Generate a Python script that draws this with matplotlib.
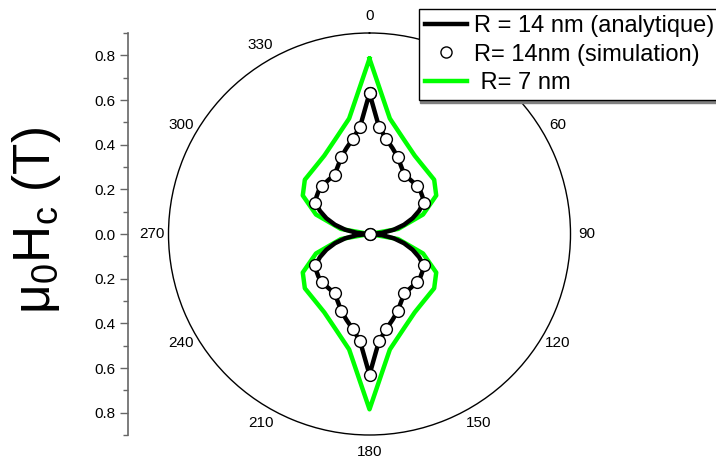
import numpy as np
import matplotlib
matplotlib.use('Agg')
import matplotlib.pyplot as plt
from matplotlib.lines import Line2D
from matplotlib.ticker import MultipleLocator

plt.rcParams['font.family'] = ['Liberation Sans', 'DejaVu Sans']
plt.rcParams['mathtext.fontset'] = 'custom'
plt.rcParams['mathtext.rm'] = 'Liberation Sans'
plt.rcParams['mathtext.it'] = 'Liberation Sans'

# ---- data: one quarter (degrees from top, clockwise); the picture is symmetric ----
ana_deg = [0, 5, 10, 15, 20, 25, 30, 35, 40, 45, 50, 55, 60, 65, 70, 75, 80, 85, 90]
ana_r = [0.63, 0.483, 0.432, 0.398, 0.368, 0.335, 0.31, 0.305, 0.303, 0.302,
         0.298, 0.29, 0.278, 0.245, 0.205, 0.16, 0.11, 0.056, 0.0]

sim_deg = [0, 5, 10, 20, 30, 45, 60, 90]
sim_r = [0.63, 0.483, 0.432, 0.368, 0.305, 0.302, 0.28, 0.0]

r7_deg = [0, 10, 20, 30, 40, 50, 60, 70, 80, 90]
r7_r = [0.785, 0.525, 0.45, 0.405, 0.385, 0.378, 0.345, 0.255, 0.13, 0.0]

theta_labels = ['0', '30', '60', '90', '120', '150', '180', '210', '240', '270', '300', '330']
r_ticks = [-0.8, -0.6, -0.4, -0.2, 0.0, 0.2, 0.4, 0.6, 0.8]
r_ticklabels = ['0.8', '0.6', '0.4', '0.2', '0.0', '0.2', '0.4', '0.6', '0.8']

labels = ['R = 14 nm (analytique)', 'R= 14nm (simulation)', ' R= 7 nm']


def full(deg, r):
    d = np.asarray(deg, float)
    rr = np.asarray(r, float)
    th = np.concatenate([d, 180 - d[::-1][1:], 180 + d[1:], 360 - d[::-1][1:]])
    rad = np.concatenate([rr, rr[::-1][1:], rr[1:], rr[::-1][1:]])
    return np.deg2rad(th), rad


W, H = 716, 461
fig = plt.figure(figsize=(W / 100, H / 100), dpi=100)

cx, cy, R = 369.5, 234.0, 201.0
ax = fig.add_axes([(cx - R) / W, (H - cy - R) / H, 2 * R / W, 2 * R / H], projection='polar')
ax.set_theta_zero_location('N')
ax.set_theta_direction(-1)
ax.set_rlim(0, 0.9)
ax.set_yticks([])
ax.grid(False)
ax.set_xticks(np.deg2rad(np.arange(0, 360, 30)))
ax.set_xticklabels(theta_labels)
ax.set_xticks(np.deg2rad(np.arange(15, 360, 30)), minor=True)
ax.tick_params(axis='x', which='major', direction='in', length=7, width=1, pad=5, labelsize=11)
ax.tick_params(axis='x', which='minor', direction='in', length=5, width=1)
ax.spines['polar'].set_linewidth(1.0)
ax.spines['polar'].set_color('black')

t7, rr7 = full(r7_deg, r7_r)
ta, ra = full(ana_deg, ana_r)
ts, rs = full(sim_deg, sim_r)
ax.plot(t7, rr7, color='#00ff00', lw=3.2, zorder=2)
ax.plot(ta, ra, color='black', lw=3.2, zorder=3)
ax.plot(ts, rs, ls='none', marker='o', ms=8.5, mfc='white', mec='black', mew=1.0, zorder=4)

# radial scale on the left
ax2 = fig.add_axes([128 / W, (H - cy - R) / H, 0.0005, 2 * R / H])
ax2.set_ylim(-0.9, 0.9)
ax2.patch.set_visible(False)
for s in ['right', 'top', 'bottom']:
    ax2.spines[s].set_visible(False)
ax2.spines['left'].set_color('0.4')
ax2.spines['left'].set_linewidth(1.2)
ax2.set_xticks([])
ax2.set_yticks(r_ticks)
ax2.set_yticklabels(r_ticklabels)
ax2.yaxis.set_minor_locator(MultipleLocator(0.1))
ax2.tick_params(axis='y', which='major', direction='out', length=6, width=1, color='0.4', labelsize=11, pad=3)
ax2.tick_params(axis='y', which='minor', direction='out', length=3.5, width=1, color='0.4')

fig.text(37 / W, 1 - 220 / H, r'μ$_\mathrm{0}$H$_\mathrm{c}$ (T)', rotation=90,
         ha='center', va='center', fontsize=37)

handles = [Line2D([], [], color='black', lw=3.2),
           Line2D([], [], ls='none', marker='o', ms=8, mfc='white', mec='black', mew=1.0),
           Line2D([], [], color='#00ff00', lw=3.2)]
fig.legend(handles, labels, loc='upper left', bbox_to_anchor=(419 / W, 1 - 9 / H),
           fontsize=17, frameon=True, fancybox=False, edgecolor='black', framealpha=1,
           borderpad=0.25, labelspacing=0.28, handlelength=1.8, handletextpad=0.3,
           borderaxespad=0, shadow={'ox': 0.5, 'oy': -2, 'color': '0.5', 'alpha': 1})

fig.savefig('out.png', dpi=100)
